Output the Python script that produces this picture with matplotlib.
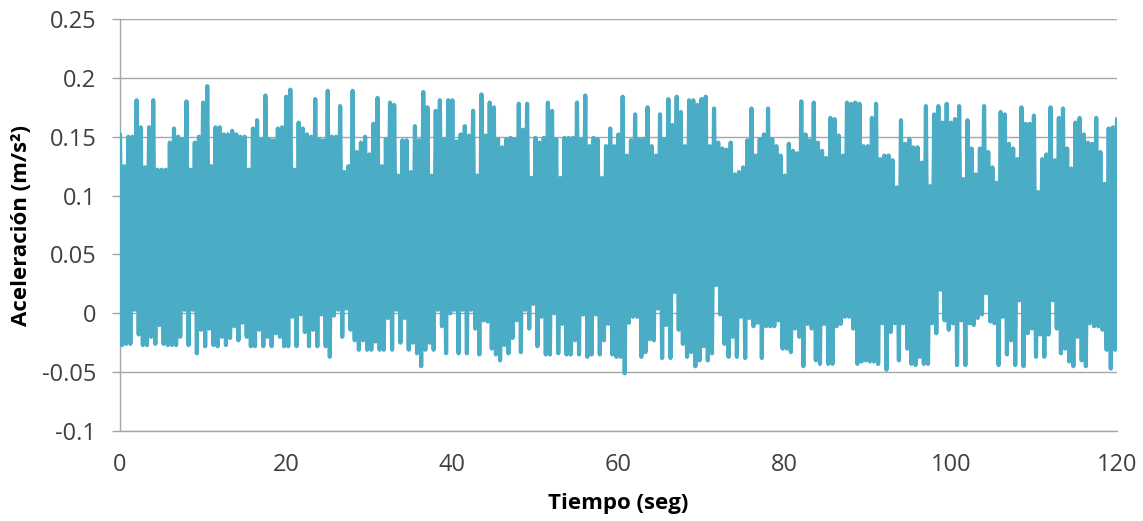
import numpy as np
import matplotlib.pyplot as plt
from matplotlib.ticker import FuncFormatter

# valores: picos superiores e inferiores cada 0.5 s
paso = 0.5
picos_sup = [
    0.152, 0.125, 0.15, 0.15, 0.181, 0.158, 0.124, 0.158, 0.181, 0.122,
    0.122, 0.122, 0.145, 0.157, 0.15, 0.148, 0.18, 0.122, 0.145, 0.15,
    0.179, 0.193, 0.125, 0.158, 0.158, 0.152, 0.152, 0.155, 0.152, 0.15,
    0.15, 0.122, 0.157, 0.164, 0.148, 0.185, 0.148, 0.147, 0.157, 0.158,
    0.184, 0.19, 0.122, 0.162, 0.157, 0.152, 0.15, 0.182, 0.148, 0.147,
    0.189, 0.15, 0.15, 0.176, 0.12, 0.125, 0.189, 0.137, 0.145, 0.15,
    0.135, 0.161, 0.183, 0.125, 0.148, 0.179, 0.177, 0.117, 0.147, 0.147,
    0.12, 0.159, 0.147, 0.188, 0.175, 0.117, 0.172, 0.181, 0.148, 0.181,
    0.181, 0.146, 0.152, 0.159, 0.151, 0.172, 0.117, 0.186, 0.151, 0.179,
    0.175, 0.148, 0.141, 0.148, 0.149, 0.148, 0.178, 0.156, 0.178, 0.115,
    0.149, 0.145, 0.149, 0.179, 0.172, 0.148, 0.115, 0.149, 0.149, 0.149,
    0.179, 0.148, 0.185, 0.142, 0.149, 0.148, 0.115, 0.142, 0.157, 0.142,
    0.152, 0.184, 0.134, 0.147, 0.169, 0.148, 0.148, 0.175, 0.142, 0.134,
    0.169, 0.148, 0.182, 0.16, 0.184, 0.171, 0.142, 0.181, 0.181, 0.177,
    0.182, 0.184, 0.142, 0.174, 0.145, 0.14, 0.139, 0.145, 0.118, 0.12,
    0.124, 0.147, 0.174, 0.134, 0.148, 0.152, 0.174, 0.148, 0.142, 0.134,
    0.117, 0.144, 0.138, 0.136, 0.18, 0.152, 0.147, 0.179, 0.145, 0.138,
    0.132, 0.166, 0.165, 0.151, 0.134, 0.179, 0.178, 0.179, 0.178, 0.142,
    0.142,
    0.166, 0.178, 0.131, 0.134, 0.134, 0.13, 0.107, 0.164, 0.144, 0.148,
    0.141, 0.141, 0.128, 0.176, 0.108, 0.169, 0.176, 0.162, 0.178, 0.162,
    0.165, 0.176, 0.114, 0.164, 0.14, 0.118, 0.14, 0.176, 0.137, 0.124,
    0.111, 0.171, 0.169, 0.144, 0.14, 0.131, 0.175, 0.161, 0.161, 0.168,
    0.103, 0.131, 0.135, 0.175, 0.13, 0.166, 0.174, 0.14, 0.123, 0.162,
    0.166, 0.152, 0.145, 0.144, 0.166, 0.137, 0.11, 0.157, 0.158, 0.165,
]
picos_inf = [
    -0.027, -0.026, -0.026, 0.003, -0.018, -0.027, -0.027, -0.02, -0.026, -0.01,
    -0.026, -0.027, -0.027, -0.027, -0.02, 0.003, -0.027, 0.003, -0.034, -0.014,
    -0.028, -0.013, -0.027, -0.028, -0.02, -0.027, -0.021, -0.011, -0.023, -0.008,
    -0.02, -0.028, -0.028, -0.014, -0.028, -0.02, -0.028, -0.017, -0.02, -0.028,
    -0.028, -0.003, -0.028, -0.001, -0.016, -0.028, -0.014, -0.028, -0.001, -0.028,
    -0.037, -0.002, 0.003, -0.02, 0.004, -0.014, -0.023, -0.031, -0.023, -0.031,
    -0.031, -0.024, -0.031, -0.031, -0.004, -0.031, 0.003, -0.025, -0.004, -0.031,
    -0.025, -0.034, -0.045, -0.031, -0.025, -0.031, 0.003, -0.011, -0.034, 0.0,
    0.003, -0.034, 0.003, -0.034, 0.003, -0.013, -0.035, -0.006, -0.007, -0.03,
    -0.035, -0.04, -0.027, -0.034, -0.021, -0.006, -0.033, 0.003, -0.013, 0.008,
    -0.028, -0.003, -0.035, -0.035, 0.0, -0.034, -0.009, -0.035, -0.035, -0.023,
    -0.035, -0.001, -0.037, -0.035, -0.001, -0.035, -0.023, -0.009, -0.035, -0.037,
    -0.037, -0.051, -0.008, -0.003, -0.003, -0.037, -0.033, -0.022, -0.023, 0.004,
    -0.038, -0.01, -0.038, 0.018, -0.014, -0.026, -0.037, -0.033, -0.045, -0.04,
    -0.028, -0.04, -0.034, 0.024, -0.001, -0.026, -0.037, -0.02, -0.037, -0.003,
    -0.038, -0.004, -0.011, -0.008, -0.038, -0.011, -0.011, -0.011, -0.006, -0.03,
    -0.03, -0.033, -0.013, -0.02, -0.045, -0.009, -0.013, -0.04, -0.043, -0.009,
    -0.043, -0.043, -0.011, -0.009, -0.003, -0.003, -0.013, -0.043, -0.041, -0.04,
    -0.041,
    -0.041, -0.043, -0.0085, -0.048, -0.016, -0.0085, -0.04, -0.0085, -0.03, -0.043,
    -0.044, -0.037, -0.043, -0.043, -0.0085, -0.017, 0.02, -0.006, -0.014, -0.0085,
    -0.044, -0.006, -0.044, -0.0085, -0.01, -0.004, -0.001, 0.017, -0.007, -0.0085,
    -0.044, -0.003, -0.035, -0.023, -0.044, 0.011, -0.045, -0.017, -0.013, -0.037,
    -0.018, -0.037, -0.018, 0.011, -0.013, -0.034, -0.03, -0.041, -0.045, -0.02,
    -0.04, -0.045, -0.0085, -0.011, -0.011, -0.014, -0.031, -0.047, -0.031, -0.04,
]

y_ticks = [-0.1, -0.05, 0, 0.05, 0.1, 0.15, 0.2, 0.25]
x_ticks = [0, 20, 40, 60, 80, 100, 120]

# señal: alterna pico superior / inferior
n = len(picos_sup)
t = np.empty(2 * n)
y = np.empty(2 * n)
t[0::2] = np.arange(n) * paso
t[1::2] = np.arange(n) * paso + paso / 2
y[0::2] = picos_sup
y[1::2] = picos_inf

plt.rcParams['font.family'] = ['Open Sans', 'DejaVu Sans']
plt.rcParams['axes.unicode_minus'] = False

fig = plt.figure(figsize=(11.43, 5.21), dpi=100)
W, H = 1143, 521
ax = fig.add_axes([120 / W, 1 - 431 / H, 997 / W, 412 / H])

ax.plot(t, y, color='#4BACC6', linewidth=3.0, solid_joinstyle='round',
        solid_capstyle='round', zorder=3)

ax.set_xlim(0, 120)
ax.set_ylim(-0.1, 0.25)
ax.set_xticks(x_ticks)
ax.set_yticks(y_ticks)
ax.yaxis.set_major_formatter(FuncFormatter(lambda v, p: '%g' % round(v, 3)))

ax.grid(axis='y', color='#A6A6A6', linewidth=1.0)
ax.set_axisbelow(True)
for s in ['top', 'right']:
    ax.spines[s].set_visible(False)
for s in ['left', 'bottom']:
    ax.spines[s].set_color('#A6A6A6')
    ax.spines[s].set_linewidth(1.0)

ax.tick_params(axis='y', length=6, width=1.0, color='#A6A6A6', pad=11,
               labelsize=17, labelcolor='#404040')
ax.tick_params(axis='x', length=0, pad=16, labelsize=17, labelcolor='#404040')

ax.set_xlabel('Tiempo (seg)', fontsize=16, fontweight='bold', color='black')
ax.set_ylabel('Aceleración (m/s²)', fontsize=16, fontweight='bold', color='black')
ax.xaxis.set_label_coords(0.5, -0.15)
ax.yaxis.set_label_coords(-0.088, 0.5)

fig.savefig('out.png', dpi=100)
